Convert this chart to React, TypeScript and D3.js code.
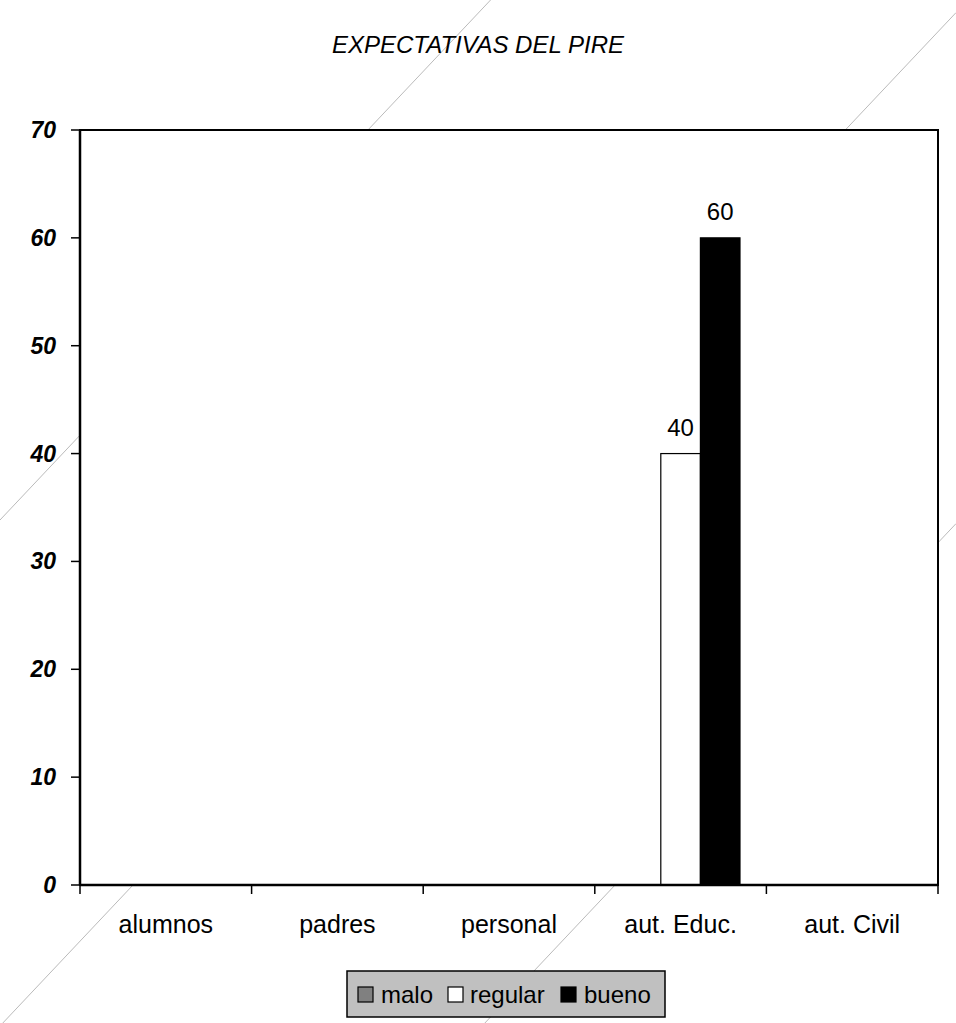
import React from "react";
import * as d3 from "d3";

const categories = ["alumnos", "padres", "personal", "aut. Educ.", "aut. Civil"];
const seriesNames = ["malo", "regular", "bueno"];
const maloValues = [0, 0, 0, 0, 0];
const regularValues = [0, 0, 0, 40, 0];
const buenoValues = [0, 0, 0, 60, 0];
const yTicks = [0, 10, 20, 30, 40, 50, 60, 70];
const seriesColors = ["#808080", "#ffffff", "#000000"];
const title = "EXPECTATIVAS DEL PIRE";

const W = 956;
const H = 1023;
const M = { left: 80, right: 938, top: 130, bottom: 885 };
const FONT = "'Liberation Sans', Arial, sans-serif";

export default function App() {
  const x0 = d3.scaleBand<string>().domain(categories).range([M.left, M.right]).paddingInner(0).paddingOuter(0);
  const x1 = d3.scaleBand<string>().domain(seriesNames).range([0, x0.bandwidth()]).paddingInner(0).paddingOuter(0.667);
  const y = d3.scaleLinear().domain([0, 70]).range([M.bottom, M.top]);
  const allSeries = [maloValues, regularValues, buenoValues];

  // decorative faint diagonal strokes behind the chart (as in the scan)
  const diag = (y0: number) => {
    const k = 1.06;
    return { x1: 0, y1: y0, x2: W, y2: y0 - k * W };
  };
  const diags = [520, 1026, 1537].map(diag);

  const catBoundaries = [M.left, ...categories.map((c) => (x0(c) as number) + x0.bandwidth())];

  const legendItems = [
    { name: seriesNames[0], sx: 358, tx: 381 },
    { name: seriesNames[1], sx: 448, tx: 470 },
    { name: seriesNames[2], sx: 561, tx: 584 },
  ];

  return (
    <svg width={W} height={H} style={{ position: "absolute", left: 0, top: 0, background: "#fff" }} fontFamily={FONT}>
      <rect x={0} y={0} width={W} height={H} fill="#fff" />
      {diags.map((d, i) => (
        <line key={i} x1={d.x1} y1={d.y1} x2={d.x2} y2={d.y2} stroke="#a8a8a8" strokeWidth={0.8} />
      ))}
      <text x={478} y={53} textAnchor="middle" fontSize={24} fontStyle="italic" fill="#000">
        {title}
      </text>
      {/* plot area */}
      <rect x={M.left} y={M.top} width={M.right - M.left} height={M.bottom - M.top} fill="#fff" stroke="#000" strokeWidth={2} />
      {/* bars */}
      {allSeries.map((vals, si) =>
        vals.map((v, ci) =>
          v > 0 ? (
            <rect
              key={`${si}-${ci}`}
              x={(x0(categories[ci]) as number) + (x1(seriesNames[si]) as number)}
              y={y(v)}
              width={x1.bandwidth()}
              height={y(0) - y(v)}
              fill={seriesColors[si]}
              stroke="#000"
              strokeWidth={1.2}
            />
          ) : null
        )
      )}
      {/* value labels */}
      {allSeries.map((vals, si) =>
        vals.map((v, ci) =>
          v > 0 ? (
            <text
              key={`l${si}-${ci}`}
              x={(x0(categories[ci]) as number) + (x1(seriesNames[si]) as number) + x1.bandwidth() / 2}
              y={y(v) - 18}
              textAnchor="middle"
              fontSize={24}
              fill="#000"
            >
              {v}
            </text>
          ) : null
        )
      )}
      {/* axes */}
      <line x1={M.left} y1={M.top} x2={M.left} y2={M.bottom} stroke="#000" strokeWidth={2.5} />
      <line x1={M.left} y1={M.bottom} x2={M.right} y2={M.bottom} stroke="#000" strokeWidth={2.5} />
      {yTicks.map((t) => (
        <g key={t}>
          <line x1={M.left - 9} y1={y(t)} x2={M.left} y2={y(t)} stroke="#000" strokeWidth={1.5} />
          <text x={56} y={y(t) + 8} textAnchor="end" fontSize={23} fontWeight="bold" fontStyle="italic" fill="#000">
            {t}
          </text>
        </g>
      ))}
      {catBoundaries.map((bx, i) => (
        <line key={i} x1={bx} y1={M.bottom} x2={bx} y2={M.bottom + 9} stroke="#000" strokeWidth={1.5} />
      ))}
      {categories.map((c) => (
        <text key={c} x={(x0(c) as number) + x0.bandwidth() / 2} y={933} textAnchor="middle" fontSize={25} fill="#000">
          {c}
        </text>
      ))}
      {/* legend */}
      <rect x={347} y={971} width={318} height={46} fill="#c0c0c0" stroke="#000" strokeWidth={1.5} />
      {legendItems.map((it, i) => (
        <g key={it.name}>
          <rect x={it.sx} y={987} width={15} height={15} fill={seriesColors[i]} stroke="#000" strokeWidth={1.2} />
          <text x={it.tx} y={1003} fontSize={24} fill="#000">
            {it.name}
          </text>
        </g>
      ))}
    </svg>
  );
}
